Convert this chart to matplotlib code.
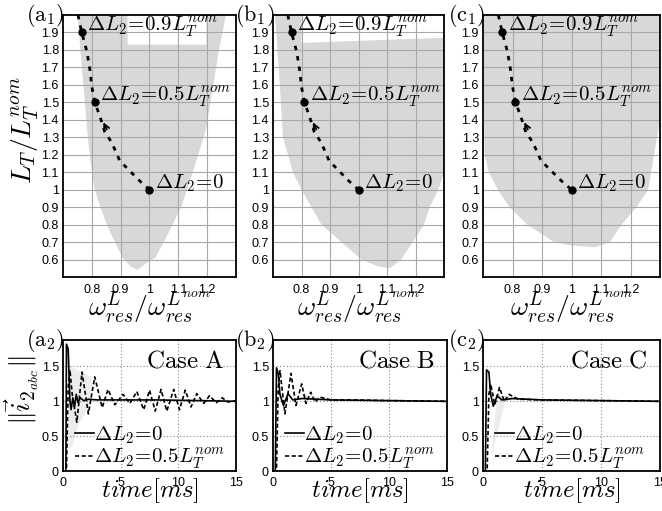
import numpy as np
import matplotlib
matplotlib.use('Agg')
import matplotlib.pyplot as plt

plt.rcParams['mathtext.fontset'] = 'cm'
plt.rcParams['font.family'] = ['Liberation Sans', 'DejaVu Sans']

# --- top row: stability region + trajectory of the resonance ---
traj_w = [0.752, 0.765, 0.783, 0.793, 0.80, 0.81, 0.828, 0.845, 0.869, 0.897, 0.93, 0.966, 1.0]
traj_L = [2.0, 1.9, 1.79, 1.69, 1.59, 1.5, 1.42, 1.33, 1.27, 1.165, 1.11, 1.05, 1.0]
dots_w = [0.765, 0.81, 1.0]
dots_L = [1.9, 1.5, 1.0]
dot_labels = [r'$\Delta L_2\!=\!0.9L_T^{nom}$', r'$\Delta L_2\!=\!0.5L_T^{nom}$', r'$\Delta L_2\!=\!0$']

reg_a_x = [0.752, 0.76, 0.776, 0.786, 0.80, 0.81, 0.83, 0.852, 0.88, 0.907, 0.935, 0.958,
           0.99, 1.02, 1.05, 1.08, 1.11, 1.13, 1.15, 1.197, 1.24, 1.265, 1.197, 1.197, 0.924, 0.924]
reg_a_y = [2.0, 1.8, 1.5, 1.3, 1.1, 1.0, 0.9, 0.8, 0.7, 0.61, 0.56, 0.54,
           0.58, 0.61, 0.7, 0.8, 0.9, 1.0, 1.1, 1.35, 1.79, 2.0, 2.0, 1.83, 1.83, 2.0]
reg_b_x = [0.707, 0.72, 0.735, 0.77, 0.80, 0.835, 0.87, 0.94, 1.01, 1.07, 1.11,
           1.15, 1.19, 1.23, 1.25, 1.28, 1.30, 1.30, 0.80, 0.80]
reg_b_y = [2.0, 1.7, 1.3, 1.1, 1.0, 0.9, 0.8, 0.7, 0.6, 0.56, 0.55,
           0.6, 0.7, 0.8, 0.9, 1.0, 1.1, 1.87, 1.84, 2.0]
reg_c_x = [0.70, 0.705, 0.72, 0.75, 0.79, 0.85, 0.94, 1.0, 1.08, 1.13, 1.17, 1.22,
           1.26, 1.27, 1.28, 1.29, 1.30, 1.30]
reg_c_y = [2.0, 1.2, 1.1, 1.0, 0.9, 0.8, 0.7, 0.68, 0.67, 0.7, 0.8, 0.9,
           1.0, 1.1, 1.2, 1.3, 1.4, 2.0]

xt_top = [0.8, 0.9, 1.0, 1.1, 1.2]
xt_top_lab = ['0.8', '0.9', '1', '1.1', '1.2']
yt_top = [0.6, 0.7, 0.8, 0.9, 1.0, 1.1, 1.2, 1.3, 1.4, 1.5, 1.6, 1.7, 1.8, 1.9]
yt_top_lab = ['0.6', '0.7', '0.8', '0.9', '1', '1.1', '1.2', '1.3', '1.4', '1.5', '1.6', '1.7', '1.8', '1.9']

# --- bottom row: current norm in time ---
tA_s = [0, 0.25, 0.3, 0.45, 0.6, 0.7, 0.85, 1.0, 1.15, 1.3, 1.5, 1.8, 2.2, 3.0, 5.0, 8.0, 12.0, 15.0]
vA_s = [0, 0, 1.82, 1.75, 1.0, 0.88, 1.05, 0.92, 1.1, 0.98, 1.05, 1.01, 1.03, 1.02, 1.02, 1.02, 1.01, 1.0]
tA_d = [0, 0.3, 0.45, 0.6, 0.8, 1.2, 1.65, 2.2, 2.75, 3.4, 3.9, 4.5, 5.2, 5.8, 6.4, 7.0, 7.5, 8.0,
        8.5, 9.0, 9.6, 10.1, 10.6, 11.1, 11.6, 12.2, 12.7, 13.3, 13.8, 14.3, 15.0]
vA_d = [0, 0, 1.2, 1.45, 1.1, 0.7, 1.42, 0.82, 1.35, 0.91, 1.17, 0.95, 1.1, 0.97, 1.14, 0.88, 1.16, 0.86,
        1.17, 0.86, 1.17, 0.88, 1.16, 0.92, 1.11, 0.97, 1.08, 0.98, 1.05, 0.99, 1.01]
tB_s = [0, 0.2, 0.3, 0.45, 0.6, 0.9, 1.3, 1.7, 2.5, 5.0, 10.0, 15.0]
vB_s = [0, 0, 1.48, 1.4, 1.1, 0.94, 1.11, 1.02, 1.04, 1.02, 1.01, 1.0]
tB_d = [0, 0.3, 0.45, 0.6, 1.03, 1.55, 1.98, 2.47, 2.84, 3.25, 3.62, 4.05, 5.0, 7.0, 10.0, 15.0]
vB_d = [0, 0, 1.2, 1.44, 0.82, 1.40, 0.94, 1.25, 0.97, 1.13, 0.99, 1.06, 1.02, 1.02, 1.01, 1.0]
tC_s = [0, 0.2, 0.3, 0.5, 0.65, 0.87, 1.2, 1.6, 2.5, 5.0, 10.0, 15.0]
vC_s = [0, 0, 1.45, 1.42, 1.1, 0.93, 1.08, 1.02, 1.04, 1.02, 1.01, 1.0]
tC_d = [0, 0.35, 0.5, 0.65, 1.0, 1.4, 1.8, 2.2, 3.0, 5.0, 10.0, 15.0]
vC_d = [0, 0, 1.1, 1.25, 0.95, 1.2, 1.0, 1.1, 1.03, 1.02, 1.01, 1.0]
shadeA_t = [0.4, 0.6, 2.5, 2.5, 1.3, 0.8]
shadeA_v = [0.3, 1.5, 1.35, 1.0, 0.65, 0.35]
shadeB_t = [2.5, 5.0, 5.0, 2.5]
shadeB_v = [1.12, 1.03, 1.01, 1.05]
shadeC_t = [0.7, 1.9, 4.0, 4.0, 1.2]
shadeC_v = [0.2, 1.0, 1.05, 1.02, 1.1]
cases = ['A', 'B', 'C']

xt_bot = [0, 5, 10, 15]
xt_bot_lab = ['0', '5', '10', '15']
yt_bot = [0, 0.5, 1.0, 1.5]
yt_bot_lab = ['0', '0.5', '1', '1.5']

W, H = 662, 511
fig = plt.figure(figsize=(W / 100, H / 100), dpi=100)


def px_axes(x0, y0, x1, y1):
    return fig.add_axes([x0 / W, 1 - y1 / H, (x1 - x0) / W, (y1 - y0) / H])


cols = [(63, 236), (273, 444), (483, 660)]
regions = [(reg_a_x, reg_a_y), (reg_b_x, reg_b_y), (reg_c_x, reg_c_y)]
letters = ['a', 'b', 'c']

for i, (x0, x1) in enumerate(cols):
    ax = px_axes(x0, 15, x1, 277)
    ax.fill(regions[i][0], regions[i][1], color='#d8d8d8', lw=0, zorder=1)
    ax.set_xlim(0.7, 1.3)
    ax.set_ylim(0.5, 2.0)
    ax.set_xticks(xt_top, xt_top_lab)
    ax.set_yticks(yt_top, yt_top_lab)
    ax.set_axisbelow('line')
    ax.grid(True, color='#a8a8a8', lw=0.8)
    ax.tick_params(length=0, labelsize=9, pad=3)
    ax.tick_params(axis='x', pad=5)
    for s in ax.spines.values():
        s.set_linewidth(1.3)
    ax.plot(traj_w, traj_L, color='k', lw=2, ls=(0, (1.6, 2.2)), zorder=3)
    ax.plot(dots_w, dots_L, 'o', color='k', ms=5, zorder=4)
    ax.annotate('', xy=(0.836, 1.40), xytext=(0.856, 1.33),
                arrowprops=dict(arrowstyle='->', lw=1.3, color='k', mutation_scale=10), zorder=4)
    for w, l, lab in zip(dots_w, dots_L, dot_labels):
        ax.annotate(lab, (w, l), xytext=(4, 1), textcoords='offset points',
                    fontsize=15, va='baseline', ha='left', zorder=5, annotation_clip=False)
    ax.text(0.01, 1, r'$\mathrm{(%s}_1\mathrm{)}$' % letters[i], transform=ax.transAxes,
            fontsize=16, ha='right', va='center')
    ax.set_xlabel(r'$\omega_{res}^{L}/\omega_{res}^{L^{nom}}$', fontsize=20)
    ax.xaxis.set_label_coords(0.5, -0.05)
    if i == 0:
        ax.set_ylabel(r'$L_T/L_T^{nom}$', fontsize=20)
        ax.yaxis.set_label_coords(-0.125, 0.56)

bottoms = [(tA_s, vA_s, tA_d, vA_d, shadeA_t, shadeA_v),
           (tB_s, vB_s, tB_d, vB_d, shadeB_t, shadeB_v),
           (tC_s, vC_s, tC_d, vC_d, shadeC_t, shadeC_v)]
bcols = [(63, 236), (273, 447), (483, 660)]

for i, (x0, x1) in enumerate(bcols):
    ax = px_axes(x0, 340, x1, 471)
    ts, vs, td, vd, sh_t, sh_v = bottoms[i]
    ax.fill(sh_t, sh_v, color='#ececec', lw=0, zorder=1)
    l1, = ax.plot(ts, vs, color='k', lw=1.2, zorder=3)
    l2, = ax.plot(td, vd, color='k', lw=1.2, ls=(0, (2.5, 1.5)), zorder=3)
    ax.set_xlim(0, 15)
    ax.set_ylim(0, 1.88)
    ax.set_xticks(xt_bot, xt_bot_lab)
    ax.set_yticks(yt_bot, yt_bot_lab)
    ax.set_axisbelow('line')
    ax.grid(True, color='#888888', lw=0.8, ls=(0, (1, 2)))
    ax.tick_params(length=0, labelsize=9, pad=3)
    ax.tick_params(axis='x', pad=4)
    for s in ax.spines.values():
        s.set_linewidth(1.3)
    ax.text(0.71, 0.79, r'$\mathrm{Case\ %s}$' % cases[i], transform=ax.transAxes,
            fontsize=18, ha='center', va='baseline')
    ax.legend([l1, l2], [r'$\Delta L_2\!=\!0$', r'$\Delta L_2\!=\!0.5L_T^{nom}$'],
              loc='lower left', bbox_to_anchor=(0.07, 0.0), frameon=False, fontsize=15,
              handlelength=0.9, handletextpad=0.0, borderaxespad=0, borderpad=0, labelspacing=0.0)
    ax.text(0.01, 1, r'$\mathrm{(%s}_2\mathrm{)}$' % letters[i], transform=ax.transAxes,
            fontsize=16, ha='right', va='center')
    ax.set_xlabel(r'$time[ms]$', fontsize=18)
    ax.xaxis.set_label_coords(0.5, -0.04)
    if i == 0:
        ax.set_ylabel(r'$\Vert\vec{i}_{2_{abc}}\Vert$', fontsize=20)
        ax.yaxis.set_label_coords(-0.13, 0.62)

fig.savefig('out.png', dpi=100)
